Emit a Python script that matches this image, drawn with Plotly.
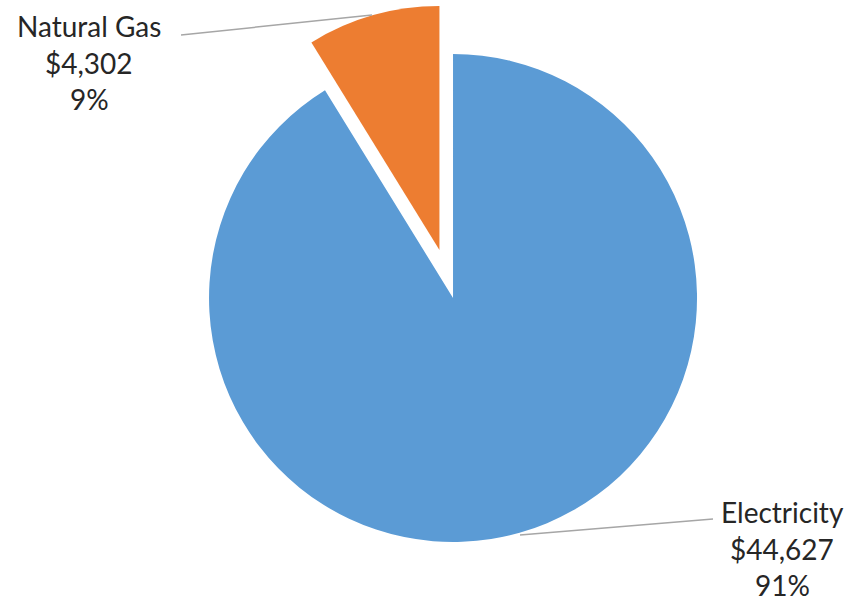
import plotly.graph_objects as go

categories = ["Electricity", "Natural Gas"]
values = [44627, 4302]
colors = ["#5B9BD5", "#ED7D31"]
pulls = [0, 0.204]

W, H = 851, 602
total = sum(values)
pcts = [round(v / total * 100) for v in values]

fig = go.Figure(go.Pie(
    labels=categories, values=values, sort=False, direction="clockwise",
    rotation=0, pull=pulls, textinfo="none", hoverinfo="label+value+percent",
    marker=dict(colors=colors, line=dict(width=0)),
    domain=dict(x=[0.1871, 0.8776], y=[0.017, 0.993]),
    showlegend=False,
))

def px(x):
    return x / W

def py(y):
    return 1 - y / H

# label blocks: center x, first line y (px)
label_pos = {"Natural Gas": (89, 26), "Electricity": (782, 512)}
line_gap = 36.5
for cat, v, p in zip(categories, values, pcts):
    cx, cy = label_pos[cat]
    lines = [cat, f"${v:,}", f"{p}%"]
    for i, t in enumerate(lines):
        fig.add_annotation(x=px(cx), y=py(cy + i * line_gap), xref="paper", yref="paper",
                           text=t, showarrow=False, xanchor="center", yanchor="middle",
                           borderpad=0,
                           font=dict(family="Lato", size=28, color="#262626"))

leaders = {"Natural Gas": ((181, 35), (372, 15)), "Electricity": ((520, 535), (713, 519))}
for cat in categories:
    (x0, y0), (x1, y1) = leaders[cat]
    fig.add_shape(type="line", xref="paper", yref="paper",
                  x0=px(x0), y0=py(y0), x1=px(x1), y1=py(y1),
                  line=dict(color="#A6A6A6", width=1.5))

fig.update_layout(width=W, height=H, margin=dict(l=0, r=0, t=0, b=0),
                  paper_bgcolor="white", plot_bgcolor="white")
fig.write_html("out.html", config={"displayModeBar": False},
               post_script="document.body.style.margin='0';document.body.style.padding='0';")
